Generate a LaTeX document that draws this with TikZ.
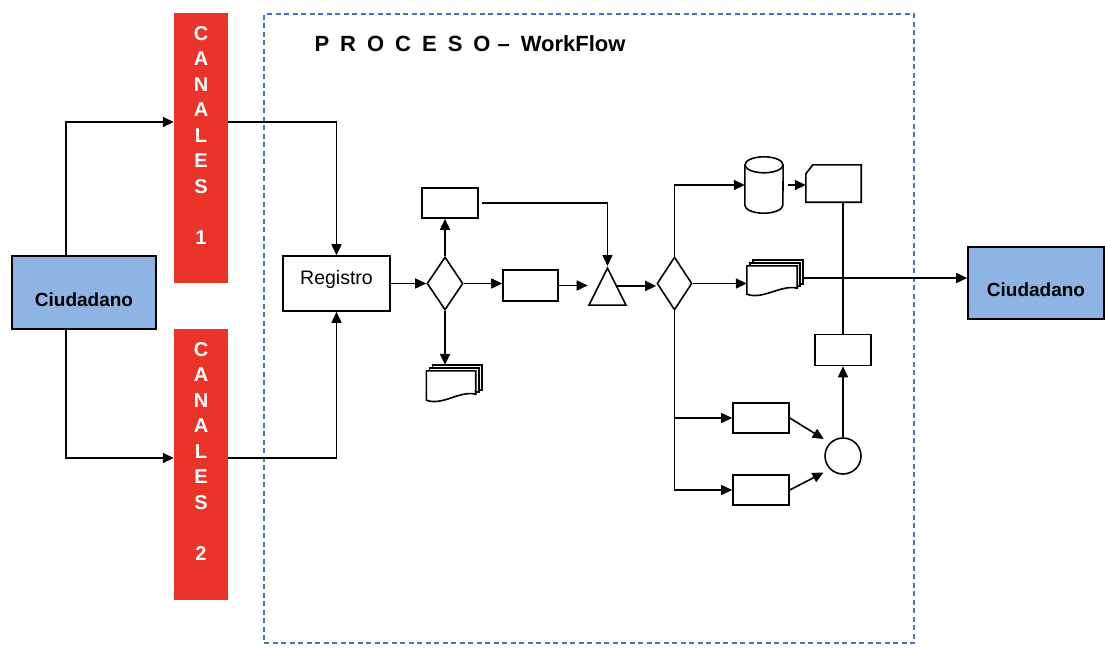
\documentclass[tikz,border=0pt]{standalone}
\usepackage{fontspec}
\setmainfont{Liberation Sans}
\usetikzlibrary{arrows.meta,shapes.geometric,calc}
\definecolor{ciublue}{RGB}{141,180,226}
\definecolor{canalred}{RGB}{234,51,41}
\definecolor{procblue}{RGB}{68,114,196}
\tikzset{
  wire/.style={line width=1.6pt},
  flow/.style={wire, -{Triangle[length=11pt,width=10pt]}},
  box/.style={draw, wire, minimum width=55pt, minimum height=30pt, inner sep=0},
  ciu/.style={draw, wire, fill=ciublue, inner sep=0, text height=28pt, font=\fontsize{19}{22}\selectfont\bfseries},
  canal/.style={fill=canalred, minimum width=54pt, minimum height=270pt, inner sep=0},
  canaltxt/.style={text=white, anchor=north, align=center, inner sep=0, font=\fontsize{20}{25.5}\selectfont\bfseries},
  dec/.style={diamond, draw, wire, minimum width=36pt, minimum height=53pt, inner sep=0},
  mdoc/.style={minimum width=55pt, minimum height=37pt, inner sep=0},
  procbox/.style={draw=procblue, line width=1.2pt, dash pattern=on 5pt off 3.5pt},
}
\newcommand{\pila}[1]{%
  \draw[wire, fill=white] ($(#1.north west)+(6,0)$) rectangle ($(#1.south east)+(0,-12)$);
  \draw[wire, fill=white] ($(#1.north west)+(3,3)$) rectangle ($(#1.south east)+(-3,-10)$);
  \draw[wire, fill=white] ($(#1.north west)+(0,6)$) -- ($(#1.north east)+(-6,6)$) -- ($(#1.south east)+(-6,-8)$)
    .. controls ($(#1.south east)+(-22,-12)$) and ($(#1.south west)+(16,4)$) .. ($(#1.south west)+(0,-2)$) -- cycle;
}
\begin{document}
\begin{tikzpicture}[x=1pt, y=-1pt]
\useasboundingbox (0,0) rectangle (1105,648);
\node[procbox, minimum width=650pt, minimum height=629pt] (proc) at (589,328.5){};
\node[font=\fontsize{22}{26}\selectfont\bfseries] (titulo) at (470,44){\spaceskip=11pt\relax P R O C E S O\hspace{7pt}– WorkFlow};
\node[ciu, minimum width=144pt, minimum height=73pt] (ciu1) at (84,292.5){Ciudadano};
\node[ciu, minimum width=136pt, minimum height=72pt] (ciu2) at (1036,283){Ciudadano};
\node[canal] (c1) at (201,148){};
\node[canaltxt] (c1txt) at ([yshift=-13.5pt]c1.north){C\\A\\N\\A\\L\\E\\S\\[25.5pt]1};
\node[canal, minimum height=271pt] (c2) at (201,464.5){};
\node[canaltxt] (c2txt) at ([yshift=-13.5pt]c2.north){C\\A\\N\\A\\L\\E\\S\\[25.5pt]2};
\node[box, minimum width=107pt, minimum height=55pt, text height=14pt, text depth=12pt, font=\fontsize{19.5}{22}\selectfont] (reg) at (336.5,283.5){Registro};
\node[dec] (d1) at (445,283.5){};
\node[box, minimum width=56pt] (b1) at (450,203){};
\node[box, minimum height=31pt] (b2) at (530.5,285.5){};
\node[mdoc] (md1) at (454,383.5){};
\pila{md1}
\node[isosceles triangle, isosceles triangle stretches, shape border rotate=90, draw, wire, minimum width=37pt, minimum height=37pt, inner sep=0, anchor=apex] (tri) at (607.5,266){};
\node[dec, minimum width=35pt] (d2) at (674.5,283.5){};
\node[minimum width=38pt, minimum height=56pt, inner sep=0] (cyl) at (764,185){};
\draw[wire] ($(cyl.north west)+(0,8)$) -- ($(cyl.south west)+(0,-8)$) arc[start angle=180, end angle=360, x radius=19pt, y radius=8pt] -- ($(cyl.north east)+(0,8)$);
\draw[wire] ($(cyl.north)+(0,8)$) ellipse[x radius=19pt, y radius=8pt];
\node[minimum width=55pt, minimum height=37pt, inner sep=0] (card) at (833.5,183.5){};
\draw[wire] ($(card.north west)+(0,9)$) -- ($(card.north west)+(7,0)$) -- (card.north east) -- (card.south east) -- (card.south west) -- cycle;
\node[mdoc, minimum width=56pt, minimum height=36pt] (md2) at (775,278){};
\pila{md2}
\node[box, minimum width=56pt] (b3) at (761,418){};
\node[box, minimum width=56pt] (b4) at (761,490){};
\node[circle, draw, wire, minimum size=36pt, inner sep=0] (circ) at (843,456){};
\node[box, minimum width=56pt, minimum height=31pt] (b5) at (843,350){};
\draw[flow] ([xshift=-18pt]ciu1.north) |- ([yshift=26pt]c1.west);
\draw[flow] ([xshift=-18pt]ciu1.south) |- ([yshift=6.5pt]c2.west);
\draw[flow] ([yshift=26pt]c1.east) -| (reg.north);
\draw[flow] ([yshift=6.5pt]c2.east) -| (reg.south);
\draw[flow] (reg.east) -- (d1.west);
\draw[flow] (d1.north) -- (d1.north |- b1.south);
\draw[flow] (d1.east) -- (d1.east -| b2.west);
\draw[flow] (d1.south) -- (d1.south |- md1.north);
\draw[flow] ([xshift=3pt]b1.east) -| (tri.apex);
\draw[flow] (b2.east) -- (b2.east -| tri.left corner);
\draw[flow] (tri.right side) -- (tri.right side -| d2.west);
\draw[flow] (d2.north) |- (cyl.west);
\draw[flow] ([xshift=5pt]cyl.east) -- (cyl.east -| card.west);
\draw[flow] (d2.east) -- (d2.east -| md2.west);
\draw[flow] (md2.east) -- (md2.east -| ciu2.west);
\draw[wire] (b5.north) -- (b5.north |- card.south);
\draw[flow] (circ.north) -- (b5.south);
\draw[flow] (d2.south) |- (b4.west);
\draw[flow] (d2.south |- b3.west) -- (b3.west);
\draw[flow, shorten >=7pt] (b3.east) -- (circ.north west);
\draw[flow, shorten >=7pt] (b4.east) -- (circ.south west);
\end{tikzpicture}
\end{document}
